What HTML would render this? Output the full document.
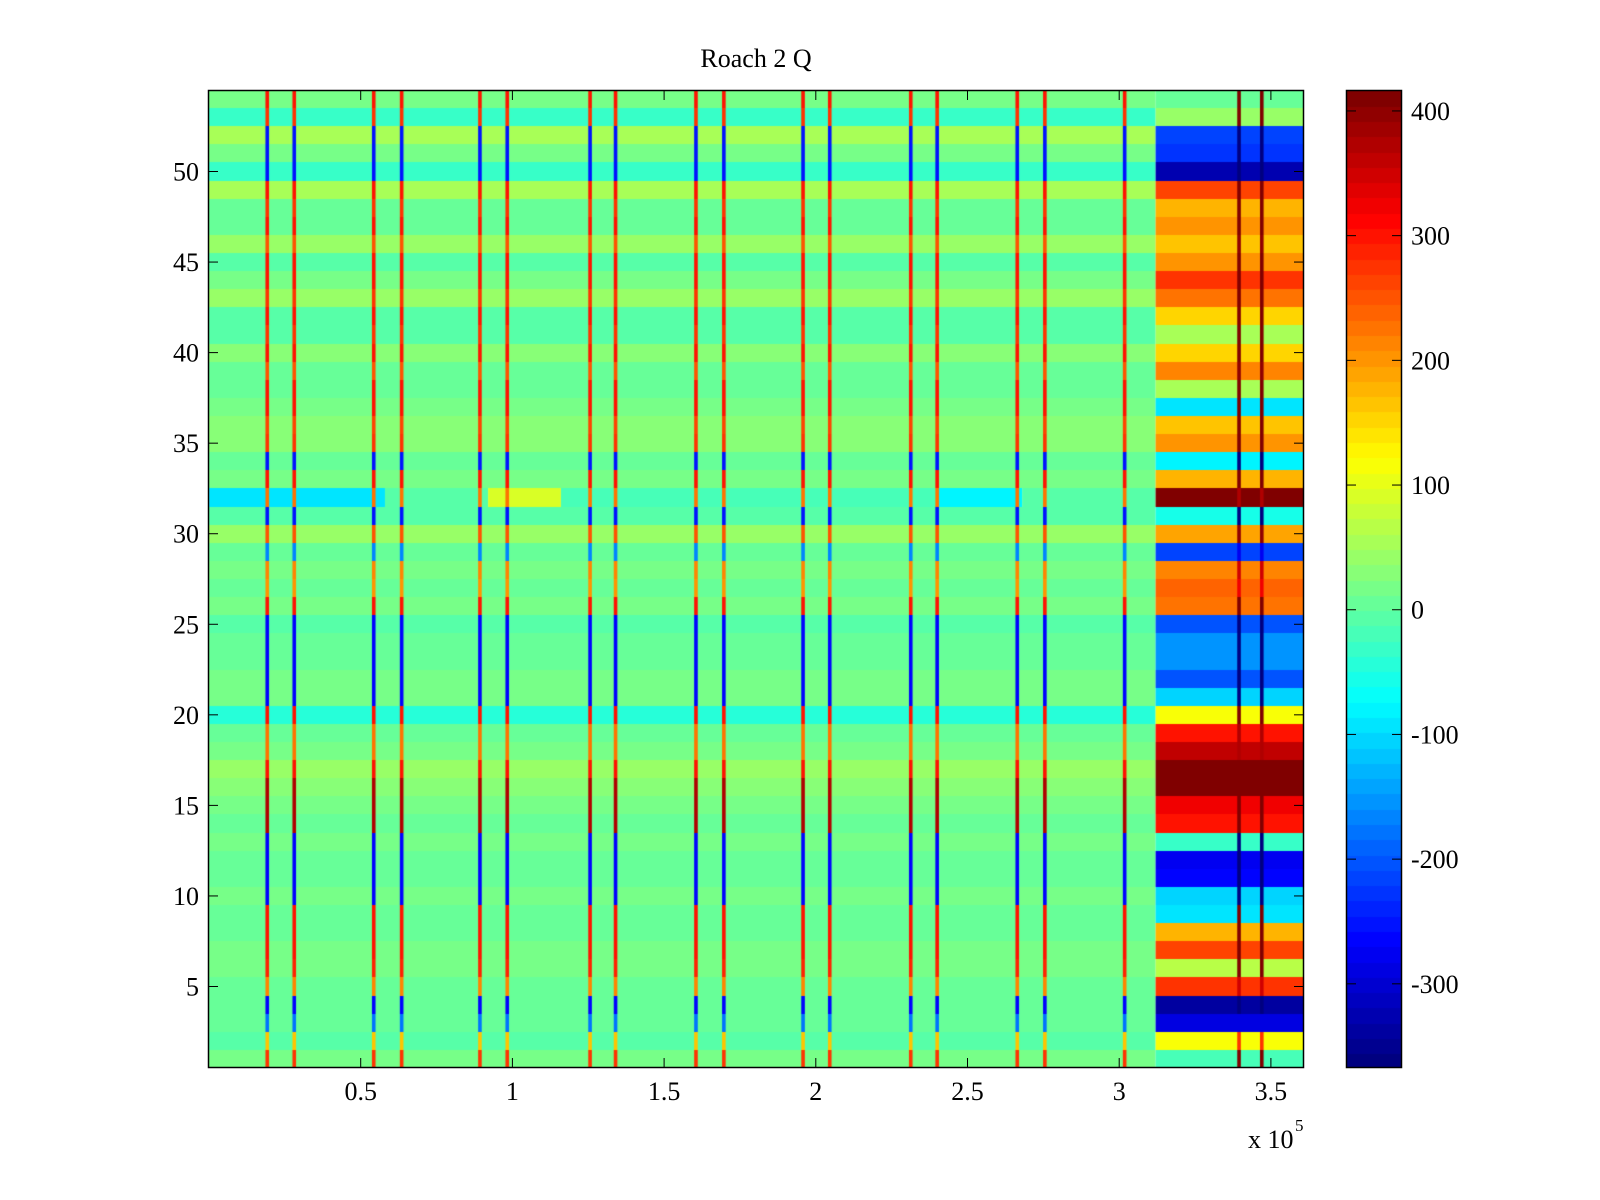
<!DOCTYPE html>
<html><head><meta charset="utf-8"><title>Roach 2 Q</title>
<style>
html,body{margin:0;padding:0;background:#fff;}
#wrap{position:relative;width:1600px;height:1200px;background:#fff;font-family:"Liberation Serif",serif;color:#000;}
canvas{position:absolute;}
svg{position:absolute;left:0;top:0;}
</style></head>
<body>
<div id="wrap">
<canvas id="heat" width="1096" height="978" style="left:208px;top:90px"></canvas>
<canvas id="cbar" width="56" height="978" style="left:1346px;top:90px"></canvas>
<svg id="ov" width="1600" height="1200"></svg>
</div>
<script>
// ---- data ----
const rowsTopDown = [54,53,52,51,50,49,48,47,46,45,44,43,42,41,40,39,38,37,36,35,34,33,32,31,30,29,28,27,26,25,24,23,22,21,20,19,18,17,16,15,14,13,12,11,10,9,8,7,6,5,4,3,2,1];
const baseValues = [20,-30,50,20,-30,50,10,10,40,0,20,40,0,0,30,10,10,20,30,30,10,20,-80,0,40,10,20,10,20,0,10,10,20,20,-40,10,20,40,30,20,10,20,10,10,20,10,10,20,20,10,10,10,0,20];
const rightValues = [10,40,-220,-230,-320,260,180,200,170,200,270,230,150,60,150,210,60,-90,160,200,-80,180,415,-60,190,-220,220,240,230,-200,-150,-150,-200,-110,120,300,360,410,415,320,300,-30,-270,-260,-100,-90,180,260,70,270,-340,-290,120,-20];
const spikeValues = [300,280,-250,-250,-250,300,280,300,250,300,300,280,300,280,300,250,300,300,260,280,-250,300,230,-250,250,-170,220,200,300,-260,-260,-260,-260,-260,300,230,230,300,380,380,380,-260,-260,-260,-260,300,300,300,290,220,-260,-180,170,270];
const spikeX = [19200,28100,54300,63500,89300,98300,125600,134000,160500,169700,195800,204600,231300,240000,266400,275500,301800,339500,347000];
const row32Segments = [[0,58000,-90],[58000,92000,-10],[92000,116000,90],[116000,240000,-20],[240000,268000,-80],[268000,312000,0]];
const rightStart = 312000;
const xMax = 360500;
const xTicks = [0.5,1,1.5,2,2.5,3,3.5];
const yTicks = [5,10,15,20,25,30,35,40,45,50];
const cTicks = [400,300,200,100,0,-100,-200,-300];
const cMin = -367.5, cMax = 416.8;

// ---- scales ----
const PL=208, PT=90, PW=1096, PH=978;
const xPx = v => 209 + v/50000*151.7 - PL;
const yTop = r => (54.5 - (r+0.5)) / 54 * PH;
const rowH = PH/54;
function jet(v){
  let idx=Math.floor((v-cMin)/(cMax-cMin)*64); idx=Math.max(0,Math.min(63,idx));
  const t=idx/63, c=x=>Math.round(255*Math.max(0,Math.min(1,x)));
  return `rgb(${c(1.5-Math.abs(4*t-3))},${c(1.5-Math.abs(4*t-2))},${c(1.5-Math.abs(4*t-1))})`;
}
// ---- heatmap ----
const ctx=document.getElementById('heat').getContext('2d');
rowsTopDown.forEach((r,i)=>{
  const y=Math.round(yTop(r)), h=Math.round(yTop(r)+rowH)-y;
  const xr=xPx(rightStart);
  if(r===32){
    row32Segments.forEach(s=>{ctx.fillStyle=jet(s[2]);ctx.fillRect(xPx(s[0]),y,xPx(s[1])-xPx(s[0]),h);});
  } else {
    ctx.fillStyle=jet(baseValues[i]); ctx.fillRect(0,y,xr,h);
  }
  ctx.fillStyle=jet(rightValues[i]); ctx.fillRect(xr,y,PW-xr,h);
  spikeX.forEach(sx=>{
    const right = sx>rightStart;
    const v = right ? Math.max(cMin,Math.min(cMax,spikeValues[i]*1.6)) : spikeValues[i];
    ctx.fillStyle=jet(v); ctx.fillRect(xPx(sx)-1.8,y,3.6,h);
  });
});
// ---- colorbar ----
const cb=document.getElementById('cbar').getContext('2d');
for(let k=0;k<64;k++){
  const v0=cMin+(cMax-cMin)*k/64, v1=cMin+(cMax-cMin)*(k+1)/64;
  const y0=(cMax-v1)/(cMax-cMin)*PH, y1=(cMax-v0)/(cMax-cMin)*PH;
  cb.fillStyle=jet((v0+v1)/2); cb.fillRect(0,Math.floor(y0),56,Math.ceil(y1)-Math.floor(y0)+1);
}
// ---- axes overlay ----
const svg=document.getElementById('ov'), NS='http://www.w3.org/2000/svg';
function mk(tag,attrs,parent){const e=document.createElementNS(NS,tag);for(const k in attrs)e.setAttribute(k,attrs[k]);(parent||svg).appendChild(e);return e;}
const frame=mk('rect',{x:208.5,y:90.5,width:1095,height:977,fill:'none',stroke:'#000','stroke-width':1.5});


const cframe=mk('rect',{x:1346.5,y:90.5,width:55,height:977,fill:'none',stroke:'#000','stroke-width':1.5});


xTicks.forEach(t=>{
  const x=PL+xPx(t*1e5);
  mk('line',{x1:x,y1:1068,x2:x,y2:1058,stroke:'#000','stroke-width':1});
  mk('line',{x1:x,y1:90,x2:x,y2:100,stroke:'#000','stroke-width':1});
  const tx=mk('text',{x:x,y:1100,'font-size':26,'text-anchor':'middle','font-family':'Liberation Serif, serif'});
  tx.textContent=String(t);
  
  
});
yTicks.forEach(t=>{
  const y=PT+yTop(t)+rowH/2;
  mk('line',{x1:208,y1:y,x2:218,y2:y,stroke:'#000','stroke-width':1});
  mk('line',{x1:1304,y1:y,x2:1294,y2:y,stroke:'#000','stroke-width':1});
  const tx=mk('text',{x:199,y:y+9,'font-size':26,'text-anchor':'end','font-family':'Liberation Serif, serif'});
  tx.textContent=String(t);
  
  
});
cTicks.forEach(t=>{
  const y=PT+(cMax-t)/(cMax-cMin)*PH;
  mk('line',{x1:1346,y1:y,x2:1356,y2:y,stroke:'#000','stroke-width':1});
  mk('line',{x1:1402,y1:y,x2:1392,y2:y,stroke:'#000','stroke-width':1});
  const tx=mk('text',{x:1411,y:y+9,'font-size':26,'font-family':'Liberation Serif, serif'});
  tx.textContent=String(t);
  
  
});
const title=mk('text',{x:756,y:67,'font-size':26,'text-anchor':'middle','font-family':'Liberation Serif, serif'});
title.textContent='Roach 2 Q';


const exp=mk('text',{x:1248,y:1148,'font-size':26,'font-family':'Liberation Serif, serif'});
exp.textContent='x 10';


const sup=mk('text',{x:1295,y:1131,'font-size':17,'font-family':'Liberation Serif, serif'});
sup.textContent='5';


</script>
</body></html>
